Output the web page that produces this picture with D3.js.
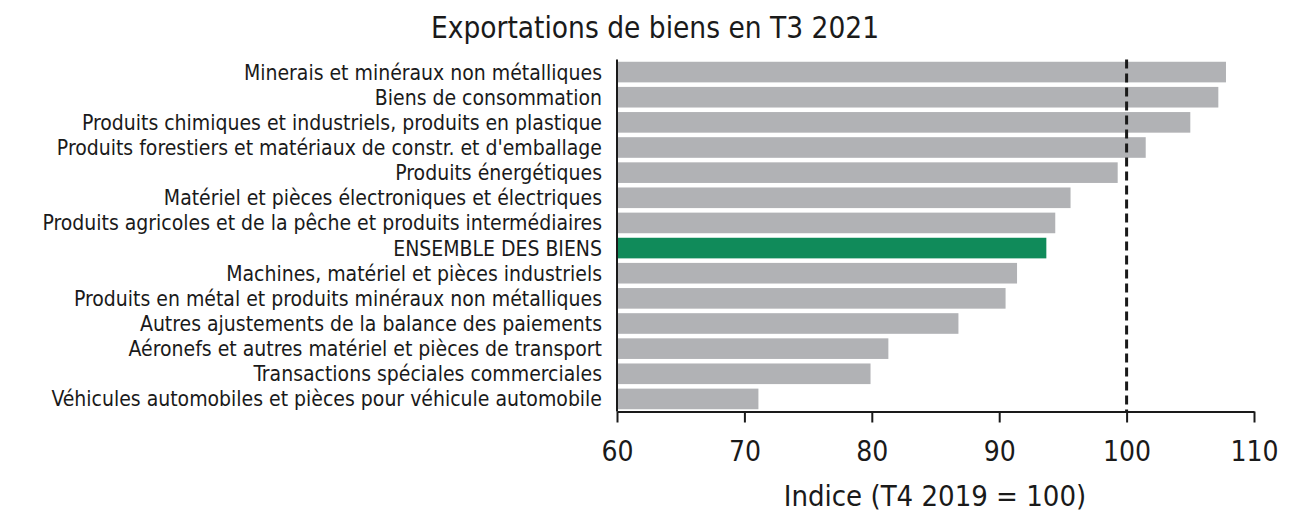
<!DOCTYPE html>
<html>
<head>
<meta charset="utf-8">
<script src="https://cdn.jsdelivr.net/npm/d3@7"></script>
<style>
  body { margin: 0; background: #fff; }
  svg { display: block; }
  text { font-family: "DejaVu Sans Condensed", "Open Sans", sans-serif; fill: #1a1a1a; }
</style>
</head>
<body>
<svg id="chart" width="1300" height="514"></svg>
<script>
const categories = [
  "Minerais et minéraux non métalliques",
  "Biens de consommation",
  "Produits chimiques et industriels, produits en plastique",
  "Produits forestiers et matériaux de constr. et d'emballage",
  "Produits énergétiques",
  "Matériel et pièces électroniques et électriques",
  "Produits agricoles et de la pêche et produits intermédiaires",
  "ENSEMBLE DES BIENS",
  "Machines, matériel et pièces industriels",
  "Produits en métal et produits minéraux non métalliques",
  "Autres ajustements de la balance des paiements",
  "Aéronefs et autres matériel et pièces de transport",
  "Transactions spéciales commerciales",
  "Véhicules automobiles et pièces pour véhicule automobile"
];
const values = [107.8, 107.2, 105.0, 101.5, 99.3, 95.6, 94.4, 93.7, 91.4, 90.5, 86.8, 81.3, 79.9, 71.1];
const highlight = ["ENSEMBLE DES BIENS"];
const xTicks = [60, 70, 80, 90, 100, 110];
const referenceValue = [100];
const title = "Exportations de biens en T3 2021";
const xTitle = "Indice (T4 2019 = 100)";

const svg = d3.select("#chart");
const mLeft = 617, mRight = 1254, mTop = 59.5, mBottom = 411.5;

const x = d3.scaleLinear().domain([60, 110]).range([mLeft, mRight]);
const y = d3.scaleBand().domain(categories).range([mTop, mBottom]).paddingInner(0.18).paddingOuter(0.09);

svg.append("text")
  .attr("x", 655).attr("y", 38)
  .attr("text-anchor", "middle")
  .style("font-size", "29.5px")
  .text(title);

// bars
svg.append("g").selectAll("rect")
  .data(categories)
  .join("rect")
  .attr("x", x(60))
  .attr("y", d => y(d))
  .attr("width", (d, i) => x(values[i]) - x(60))
  .attr("height", y.bandwidth())
  .attr("fill", d => highlight.includes(d) ? "#108b5a" : "#b1b2b5");

// category labels
svg.append("g").selectAll("text")
  .data(categories)
  .join("text")
  .attr("x", 602)
  .attr("y", d => y(d) + y.bandwidth() / 2)
  .attr("dy", "0.36em")
  .attr("text-anchor", "end")
  .style("font-size", "21px")
  .text(d => d);

// reference dashed line
svg.append("g").selectAll("line")
  .data(referenceValue)
  .join("line")
  .attr("x1", d => x(d)).attr("x2", d => x(d))
  .attr("y1", mTop).attr("y2", mBottom)
  .attr("stroke", "#1a1a1a")
  .attr("stroke-width", 3)
  .attr("stroke-dasharray", "9,5");

// y axis line
svg.append("line")
  .attr("x1", mLeft).attr("x2", mLeft)
  .attr("y1", mTop).attr("y2", mBottom)
  .attr("stroke", "#1a1a1a").attr("stroke-width", 2);

// x axis
const xAxis = svg.append("g")
  .attr("transform", `translate(0,${mBottom})`)
  .call(d3.axisBottom(x).tickValues(xTicks).tickSize(11).tickPadding(19).tickSizeOuter(0));
xAxis.select(".domain").attr("stroke", "#1a1a1a").attr("stroke-width", 2);
xAxis.selectAll(".tick line").attr("stroke", "#1a1a1a").attr("stroke-width", 2);
xAxis.selectAll(".tick text")
  .style("font-size", "28px")
  .style("font-family", "'DejaVu Sans Condensed', sans-serif")
  .attr("fill", "#1a1a1a");

svg.append("text")
  .attr("x", 935).attr("y", 506)
  .attr("text-anchor", "middle")
  .style("font-size", "29px")
  .text(xTitle);
</script>
</body>
</html>
